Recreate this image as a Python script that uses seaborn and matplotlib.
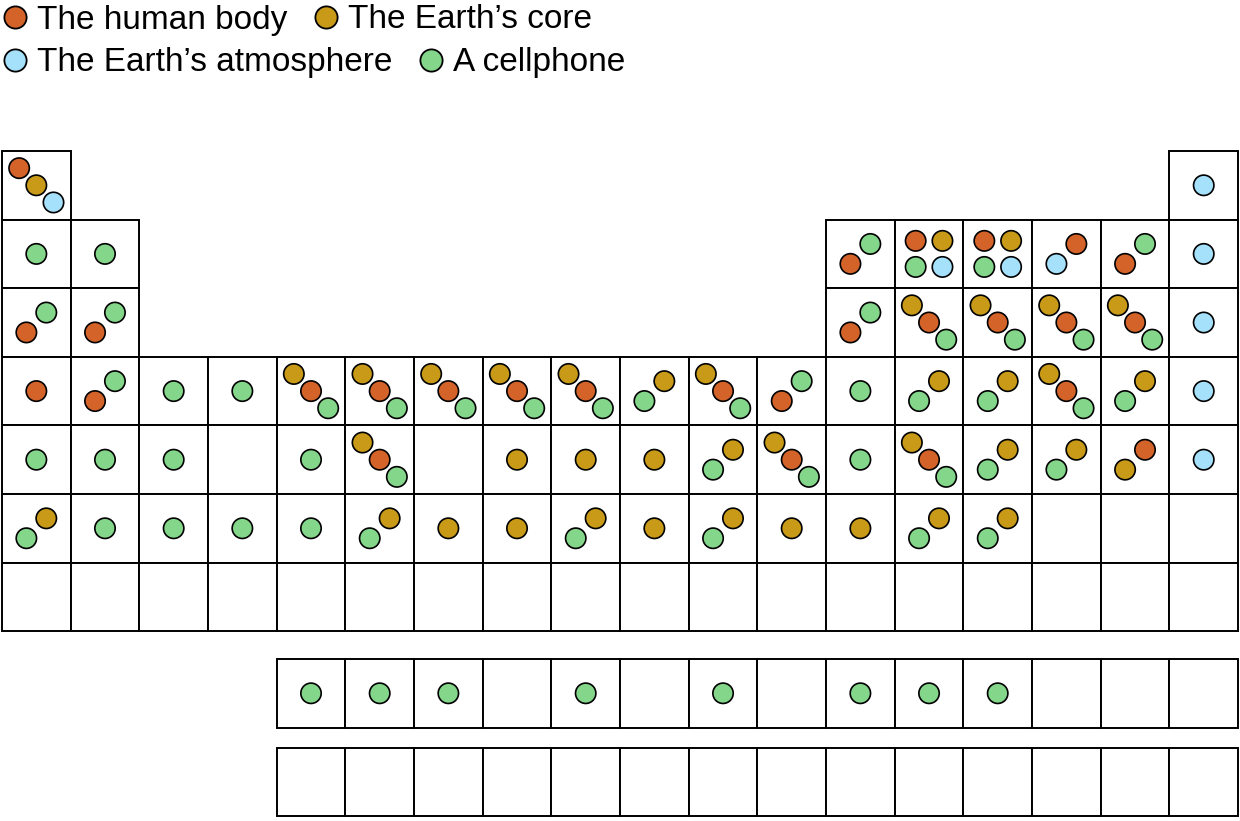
import pandas as pd
import matplotlib.pyplot as plt
import seaborn as sns
from matplotlib.patches import Rectangle
from matplotlib.lines import Line2D

# sources and colours
sources = ['The human body', 'The Earth\u2019s core', 'The Earth\u2019s atmosphere', 'A cellphone']
codes = ['H', 'C', 'A', 'P']
colors = ['#d4632a', '#c89a18', '#a6e1fb', '#84d68a']

# each cell: None = no cell, '' = empty cell, otherwise the sources found (drawing order)
period_1 = ['HCA'] + [None] * 16 + ['A']
period_2 = ['P', 'P'] + [None] * 10 + ['HP', 'HCPA', 'HCPA', 'AH', 'HP', 'A']
period_3 = ['HP', 'HP'] + [None] * 10 + ['HP', 'CHP', 'CHP', 'CHP', 'CHP', 'A']
period_4 = ['H', 'HP', 'P', 'P', 'CHP', 'CHP', 'CHP', 'CHP', 'CHP', 'PC', 'CHP', 'HP',
            'P', 'PC', 'PC', 'CHP', 'PC', 'A']
period_5 = ['P', 'P', 'P', '', 'P', 'CHP', '', 'C', 'C', 'C', 'PC', 'CHP',
            'P', 'CHP', 'PC', 'PC', 'CH', 'A']
period_6 = ['PC', 'P', 'P', 'P', 'P', 'PC', 'C', 'C', 'PC', 'C', 'PC', 'C',
            'C', 'PC', 'PC', '', '', '']
period_7 = [''] * 18
lanthanides = ['P', 'P', 'P', '', 'P', '', 'P', '', 'P', 'P', 'P', '', '', '']
actinides = [''] * 14

# row layout: (cells, first column, top y)
rows = [(period_1, 0, 0.0), (period_2, 0, 1.0), (period_3, 0, 2.0), (period_4, 0, 3.0),
        (period_5, 0, 4.0), (period_6, 0, 5.0), (period_7, 0, 6.0),
        (lanthanides, 4, 7.405), (actinides, 4, 8.70)]

# dot offsets inside a cell, by number of dots
offsets = {
    1: [(0, 0)],
    2: [(-0.145, 0.145), (0.145, -0.145)],
    3: [(-0.25, -0.25), (0, 0), (0.25, 0.25)],
    4: [(-0.195, -0.19), (0.195, -0.19), (-0.195, 0.19), (0.195, 0.19)],
}

name_of = dict(zip(codes, sources))
cells = []
dots = []
for cell_list, col0, top in rows:
    for i, c in enumerate(cell_list):
        if c is None:
            continue
        x0 = col0 + i
        cells.append((x0, top))
        for (dx, dy), k in zip(offsets.get(len(c), []), c):
            dots.append({'x': x0 + 0.5 + dx, 'y': top + 0.5 + dy, 'source': name_of[k]})
df = pd.DataFrame(dots)

sns.set_style('white')
plt.rcParams['font.family'] = ['Liberation Sans', 'DejaVu Sans']

f = plt.figure(figsize=(12.4, 8.21), dpi=100)
a = f.add_axes([0, 0, 1, 1])

for x0, top in cells:
    a.add_patch(Rectangle((x0, top), 1, 1, facecolor='white', edgecolor='black',
                          linewidth=1.4, zorder=1))

sns.scatterplot(data=df, x='x', y='y', hue='source', hue_order=sources, palette=colors,
                s=215, edgecolor='black', linewidth=1.2, legend=False, zorder=3, ax=a)

a.set_xlim(-2 / 68.67, 1238 / 68.67)
a.set_ylim(670 / 68.6, -151 / 68.6)
a.axis('off')

# legend, two rows
def handle(col):
    return Line2D([], [], marker='o', linestyle='', markersize=16, markerfacecolor=col,
                  markeredgecolor='black', markeredgewidth=1.3)

kw = dict(ncol=2, loc='center left', bbox_transform=f.transFigure, frameon=False,
          fontsize=24, labelcolor='black', borderpad=0, borderaxespad=0, handlelength=0.6,
          handletextpad=0.36, columnspacing=0.85)
leg1 = a.legend([handle(colors[0]), handle(colors[1])], sources[:2],
                bbox_to_anchor=(5 / 1240, 1 - 20 / 821), **kw)
a.add_artist(leg1)
a.legend([handle(colors[2]), handle(colors[3])], sources[2:],
         bbox_to_anchor=(5 / 1240, 1 - 63 / 821), **kw)

plt.savefig('out.png', dpi=100)
